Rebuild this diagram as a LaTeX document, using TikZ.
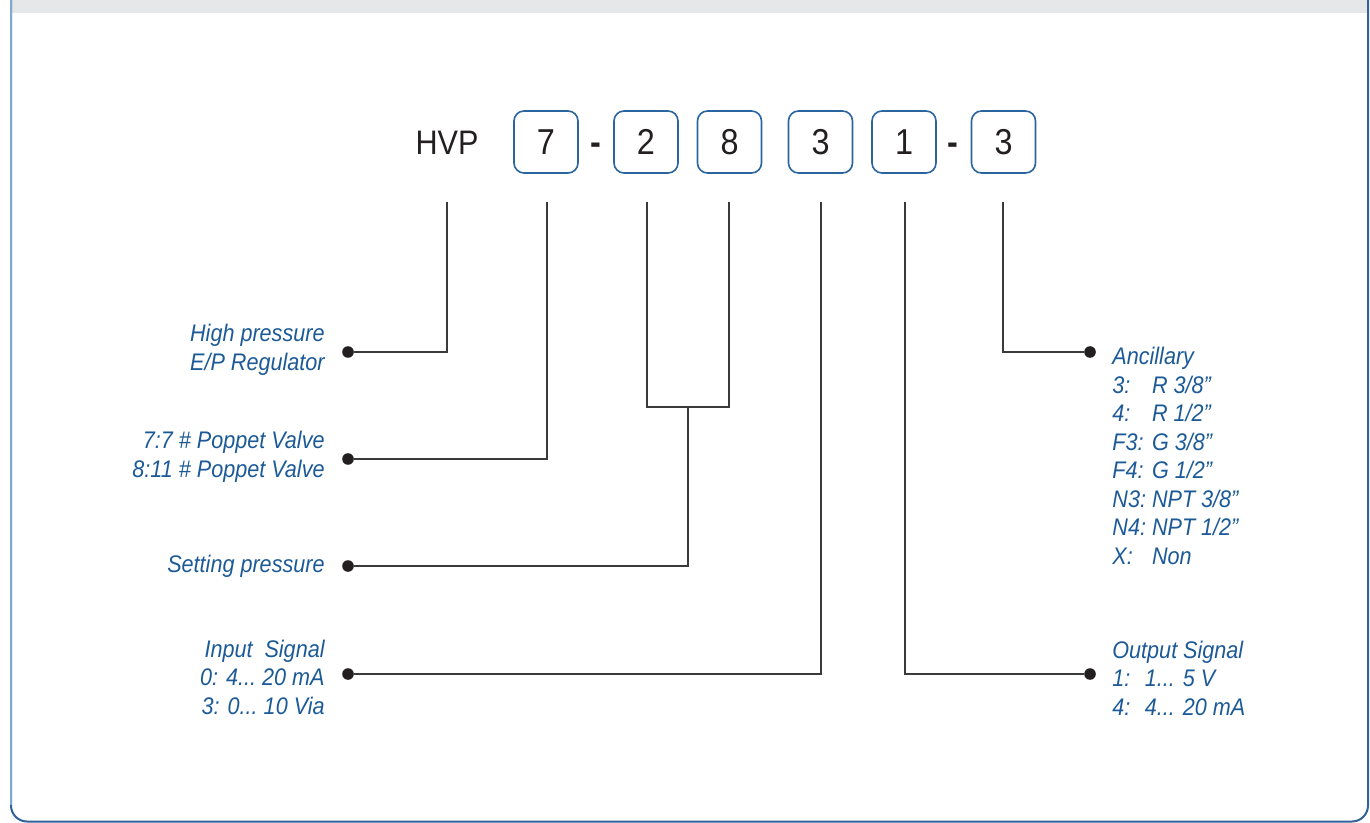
\documentclass[tikz,border=0pt]{standalone}
\usepackage{fontspec}
\setmainfont{Liberation Sans}[FakeStretch=0.9]
\usetikzlibrary{positioning}
\definecolor{codeblue}{HTML}{2A65A0}
\definecolor{textblue}{HTML}{1C5A97}
\definecolor{framelight}{HTML}{7FA8D2}
\definecolor{framedark}{HTML}{2E6299}
\definecolor{barfill}{HTML}{E6E7E9}
\definecolor{ink}{HTML}{231F20}
\definecolor{wiregray}{HTML}{3A3A3A}
\newcommand{\ctab}[2][1.65em]{\makebox[#1][l]{#2}}

\begin{document}
\begin{tikzpicture}[x=0.5pt,y=-0.5pt,
  code/.style={draw=codeblue,line width=0.8pt,rounded corners=5pt,minimum width=32pt,
               minimum height=31pt,inner sep=0pt,font=\fontsize{18}{20}\selectfont,text=ink},
  plain/.style={font=\fontsize{18}{20}\selectfont,text=ink,inner sep=0pt},
  lbl/.style={font=\fontsize{12}{14.25}\selectfont\itshape,text=textblue,inner sep=0pt},
  lft/.style={lbl,anchor=east,align=right},
  rgt/.style={lbl,anchor=west,align=left},
  dot/.style={circle,fill=ink,inner sep=0pt,minimum size=5.8pt},
  wire/.style={draw=wiregray,line width=0.6pt}]
\useasboundingbox (0,0) rectangle (1370,823);
% frame
\fill[barfill] (10,0) rectangle (1369,13);
\draw[framedark,line width=1pt,rounded corners=8pt] (1368,0) -- (1368,821.5) -- (11,821.5) -- (11,0);
\draw[framelight,line width=1pt] (11,0) -- (11,805);

% order code
\node[plain,font=\fontsize{17}{20}\selectfont] (hvp) at (447,143) {HVP};
\node[code] (b7) at (546,142) {7};
\node[plain,font=\fontsize{18}{20}\selectfont\bfseries] (s1) at (596,149) {-};
\node[code] (b2) at (646,142) {2};
\node[code] (b8) at (729.5,142) {8};
\node[code] (b3) at (820.5,142) {3};
\node[code] (b1) at (904,142) {1};
\node[plain,font=\fontsize{18}{20}\selectfont\bfseries] (s2) at (953,149) {-};
\node[code] (b3x) at (1003.5,142) {3};

\coordinate (t0) at (447,202);
\coordinate (t7) at (547,202);
\coordinate (t2) at (647,202);
\coordinate (t8) at (729,202);
\coordinate (t3) at (821,202);
\coordinate (t1) at (905,202);
\coordinate (t3x) at (1003,202);
\coordinate (j) at (688,407);

% dots
\node[dot] (d1) at (348,352) {};
\node[dot] (d2) at (348,459) {};
\node[dot] (d3) at (348,566) {};
\node[dot] (d4) at (348,674) {};
\node[dot] (d5) at (1090,674) {};
\node[dot] (d6) at (1090,352) {};

\draw[wire] (t0) |- (d1);
\draw[wire] (t7) |- (d2);
\draw[wire] (t2) |- (j) -| (t8);
\draw[wire] (j) |- (d3);
\draw[wire] (t3) |- (d4);
\draw[wire] (t1) |- (d5);
\draw[wire] (t3x) |- (d6);

% labels
\node[lft] (hp) at (325,350) {High pressure\\E/P Regulator};
\node[lft] (pv) at (325,457) {7:7 \# Poppet Valve\\8:11 \# Poppet Valve};
\node[lft] (sp) at (325,566) {Setting pressure};
\node[lft] (ins) at (325,677) {Input\enspace Signal\\0: 4...\ 20 mA\\3: 0...\ 10 Via};
\node[rgt] (anc) at (1112,456) {Ancillary\\\ctab{3:}R 3/8"\\\ctab{4:}R 1/2"\\
  \ctab{F3:}G 3/8"\\\ctab{F4:}G 1/2"\\\ctab{N3:}NPT 3/8"\\\ctab{N4:}NPT 1/2"\\\ctab{X:}Non};
\node[rgt] (outs) at (1112,678) {Output Signal\\\ctab[1.35em]{1:}1... 5 V\\\ctab[1.35em]{4:}4... 20 mA};
\end{tikzpicture}
\end{document}
